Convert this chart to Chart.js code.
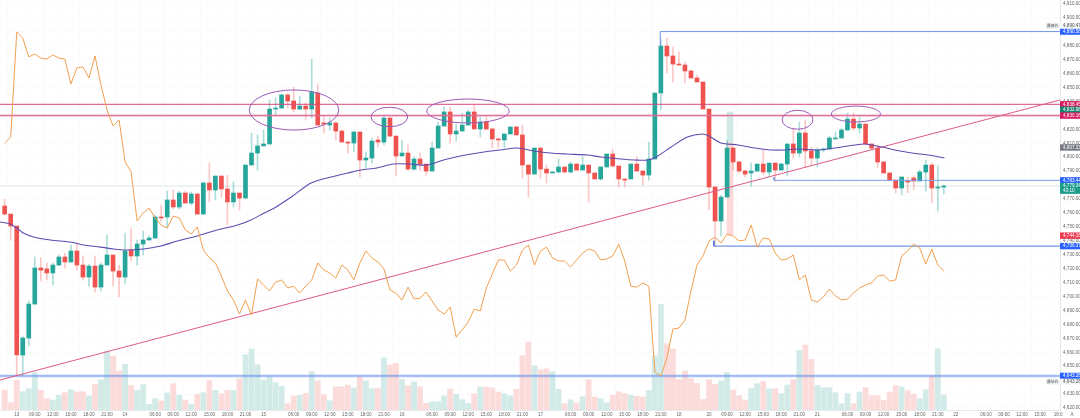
<!DOCTYPE html>
<html>
<head>
<meta charset="utf-8">
<title>XAUUSD H1</title>
<script src="https://cdn.jsdelivr.net/npm/chart.js@4"></script>
<style>
html, body { margin: 0; padding: 0; background: #fff; }
canvas { display: block; }
</style>
</head>
<body>
<canvas id="grafico" width="1080" height="418"></canvas>
<script>
var opens = [4765.0,4759.2,4750.6,4658.0,4670.2,4694.6,4720.5,4719.8,4716.9,4722.6,4728.4,4724.8,4732.7,4722.6,4714.0,4721.9,4706.8,4722.6,4729.8,4718.3,4714.0,4733.4,4729.1,4737.7,4740.6,4742.0,4757.1,4757.1,4769.3,4764.3,4774.3,4767.1,4773.6,4759.2,4781.5,4776.5,4786.5,4777.2,4767.9,4774.3,4770.7,4794.4,4803.0,4808.1,4809.5,4834.6,4835.3,4844.7,4840.4,4834.6,4836.8,4834.6,4846.1,4824.6,4823.1,4824.6,4818.8,4810.9,4810.2,4818.1,4798.0,4799.4,4812.4,4810.9,4828.1,4815.2,4800.9,4803.0,4791.5,4798.7,4795.1,4790.1,4806.6,4822.4,4832.5,4816.7,4818.8,4823.1,4832.5,4820.3,4825.3,4820.3,4813.1,4812.4,4816.7,4821.7,4816.0,4794.4,4787.9,4806.6,4791.5,4788.7,4789.4,4793.0,4789.4,4795.1,4790.8,4794.4,4788.7,4784.4,4793.0,4802.3,4793.7,4784.4,4784.4,4795.1,4790.1,4787.2,4798.7,4846.1,4879.8,4872.7,4866.9,4866.2,4861.9,4856.9,4854.0,4834.6,4778.6,4754.2,4771.4,4806.6,4796.6,4790.1,4788.7,4790.1,4795.1,4789.4,4795.8,4790.8,4795.1,4809.5,4803.0,4817.4,4804.5,4799.4,4805.2,4805.9,4813.1,4813.8,4819.5,4827.4,4821.0,4823.8,4809.5,4806.6,4796.6,4788.7,4783.6,4777.9,4782.9,4785.1,4782.9,4789.4,4794.4,4777.9,4778.6];
var closes = [4759.2,4750.6,4658.0,4670.2,4694.6,4720.5,4719.0,4716.9,4722.6,4728.4,4724.8,4732.7,4722.6,4714.0,4721.9,4706.8,4722.6,4729.8,4718.3,4714.0,4732.7,4729.1,4737.7,4740.6,4742.0,4757.1,4756.4,4769.3,4764.3,4774.3,4767.1,4773.6,4759.2,4781.5,4776.5,4786.5,4777.2,4767.9,4774.3,4770.7,4794.4,4803.0,4808.1,4809.5,4834.6,4835.3,4844.7,4840.4,4834.6,4836.8,4834.6,4846.8,4823.1,4823.8,4824.6,4818.8,4810.9,4810.2,4818.1,4798.0,4799.4,4811.6,4810.9,4828.1,4815.2,4800.9,4803.0,4791.5,4798.7,4795.1,4790.1,4806.6,4822.4,4832.5,4816.7,4818.8,4823.1,4832.5,4820.3,4825.3,4820.3,4813.1,4812.4,4816.7,4821.7,4816.0,4794.4,4787.9,4806.6,4791.5,4788.7,4789.4,4793.0,4789.4,4795.1,4790.8,4794.4,4788.7,4784.4,4793.0,4802.3,4793.7,4784.4,4783.6,4795.1,4790.1,4787.2,4798.7,4846.1,4879.8,4872.7,4866.9,4866.2,4861.9,4856.9,4854.0,4834.6,4778.6,4754.2,4771.4,4806.6,4796.6,4790.1,4787.9,4790.1,4795.1,4789.4,4795.8,4790.8,4795.1,4809.5,4803.0,4817.4,4804.5,4799.4,4805.2,4805.9,4813.8,4813.8,4819.5,4827.4,4821.0,4823.8,4809.5,4806.6,4796.6,4788.7,4783.6,4777.9,4785.8,4782.2,4782.9,4789.4,4794.4,4777.9,4778.6,4779.3];
var highs = [4770.0,4759.2,4750.6,4671.7,4696.8,4728.4,4727.7,4724.1,4724.1,4729.8,4731.2,4737.0,4738.4,4729.1,4723.3,4729.1,4724.1,4744.2,4729.8,4722.6,4745.6,4749.2,4740.6,4747.0,4743.5,4758.5,4765.7,4775.8,4776.5,4775.8,4775.8,4775.0,4774.3,4782.2,4795.8,4786.5,4786.5,4787.2,4782.2,4774.3,4794.4,4817.4,4816.0,4819.5,4841.1,4842.5,4845.4,4846.1,4850.4,4844.0,4838.9,4870.5,4852.6,4828.9,4828.1,4825.3,4819.5,4811.6,4818.8,4818.1,4803.8,4813.8,4815.2,4829.6,4828.9,4815.2,4812.4,4808.8,4800.2,4803.0,4795.1,4810.9,4825.3,4836.1,4836.1,4823.8,4831.7,4833.9,4837.5,4828.9,4828.9,4821.0,4813.8,4816.7,4821.7,4822.4,4823.1,4794.4,4806.6,4806.6,4794.4,4789.4,4798.7,4793.0,4796.6,4795.8,4800.2,4794.4,4788.7,4793.0,4802.3,4805.9,4793.7,4784.4,4795.1,4800.2,4790.1,4810.9,4846.1,4884.9,4885.6,4879.1,4875.5,4868.4,4862.6,4859.0,4854.0,4834.6,4778.6,4772.9,4812.4,4807.3,4797.3,4790.8,4795.8,4795.1,4805.2,4795.8,4795.8,4795.8,4809.5,4821.0,4825.3,4826.7,4807.3,4806.6,4806.6,4815.2,4818.1,4821.0,4831.7,4831.7,4828.9,4823.8,4809.5,4808.8,4796.6,4788.7,4783.6,4785.8,4785.8,4786.5,4790.8,4798.0,4795.8,4793.7,4780.1];
var lows = [4758.5,4740.6,4643.6,4643.6,4664.5,4694.6,4711.1,4711.9,4708.3,4722.6,4720.5,4724.8,4719.0,4711.9,4707.5,4703.2,4704.0,4722.6,4707.5,4699.7,4709.0,4725.5,4722.6,4729.8,4740.6,4742.0,4753.5,4749.2,4762.8,4762.8,4767.1,4765.7,4759.2,4759.2,4767.9,4769.3,4771.4,4751.3,4764.3,4762.1,4770.7,4794.4,4790.8,4808.1,4809.5,4830.3,4835.3,4835.3,4832.5,4833.9,4826.7,4828.1,4823.1,4817.4,4819.5,4812.4,4810.9,4803.0,4803.8,4785.8,4792.3,4795.8,4807.3,4808.8,4814.5,4786.5,4800.9,4790.8,4790.8,4790.8,4787.2,4790.1,4806.6,4822.4,4810.2,4811.6,4818.8,4823.1,4820.3,4814.5,4819.5,4806.6,4806.6,4806.6,4816.7,4816.0,4785.1,4771.4,4787.9,4785.1,4781.5,4788.7,4788.7,4788.7,4788.7,4790.8,4790.8,4767.9,4784.4,4783.6,4793.0,4793.0,4778.6,4778.6,4784.4,4790.1,4780.1,4783.6,4798.7,4833.9,4860.5,4854.0,4866.2,4853.3,4856.9,4854.0,4834.6,4762.1,4736.3,4743.5,4771.4,4790.8,4788.7,4785.8,4779.3,4789.4,4787.2,4785.8,4782.9,4790.8,4786.5,4799.4,4800.2,4793.0,4794.4,4793.0,4803.8,4805.9,4813.1,4813.8,4819.5,4819.5,4817.4,4809.5,4805.2,4792.3,4788.7,4782.9,4774.3,4772.9,4774.3,4776.5,4782.9,4775.8,4767.1,4761.4,4773.6];
var volumes = [20,7.3,30,18.3,21.3,37.3,19.7,11.3,10,14.7,17.3,20.3,18.3,18.3,14,25.7,30.3,59,54,39,45.7,24.7,19.7,25.3,5.7,11.3,9,17,26.3,15,10,5.7,15.7,17.3,29.3,19.7,16.3,19.7,19.7,31.3,55.3,61,45.3,30,33.3,27.3,23.7,6.3,14,14.7,16.7,38.3,29,15.3,9.3,23.3,23.3,25,22,33,29,21.3,22,52.3,45,46.7,30.7,24.3,28,23.3,6.7,8.3,8.3,14,21,15.7,10.3,6.7,16.3,23,23,22,18,16.3,14.3,20.7,54.3,68,44.3,40.3,41.3,38.3,20.7,6.3,10.3,7,13.3,30.3,13,11.3,7.3,14.7,18.3,16.3,15,13.7,13,19.7,54.3,105.7,66.3,61,30.3,39,31.3,26.7,10.7,30.3,25.7,29,37.3,20,14.3,10,21.3,26.3,28.3,21,21.3,16.3,25,30.3,59.7,65,50.7,24.7,22.3,22.3,17.3,6.3,16.3,6.3,18,22.3,14.3,14.3,9.7,18,24.3,23,19.3,15.7,11.3,20.3,34,61.3,15];
var indicador = [4810.2,4814.5,4889.9,4885.6,4872.0,4874.1,4871.2,4870.5,4873.4,4871.2,4870.5,4852.6,4864.1,4864.8,4856.9,4872.7,4851.8,4833.9,4822.4,4826.7,4796.6,4789.4,4754.2,4760,4763.5,4756.4,4751.3,4749.2,4757.8,4756.4,4747.8,4744.9,4749.9,4733.4,4727.7,4724.1,4714.7,4704,4697.5,4687.4,4697.5,4686.7,4712.6,4708.3,4704,4710.4,4711.9,4706.1,4707.5,4702.5,4707.5,4711.9,4724.1,4719,4716.9,4713.3,4722.6,4719,4711.9,4724.1,4732.7,4727.7,4724.8,4719.8,4704.7,4702.5,4697.5,4706.8,4698.2,4698.9,4703.2,4696.8,4690.3,4687.4,4692.5,4670.9,4676,4681.7,4691,4689.6,4706.1,4716.2,4726.2,4726.2,4718.3,4722.6,4733.4,4737,4722.6,4732.7,4735.5,4727.7,4725.5,4725.5,4721.2,4726.2,4731.2,4734.1,4732.7,4726.2,4727,4729.1,4737.7,4725.5,4707.5,4706.8,4709.7,4707.5,4645.8,4643,4655.9,4676.7,4677.4,4683.1,4704,4722.6,4729.1,4739.9,4742.7,4738.4,4744.9,4743.5,4739.9,4740.6,4751.3,4735.5,4742,4741.3,4731.2,4726.2,4727,4729.8,4711.9,4715.4,4697.5,4696.1,4699.7,4705.4,4700.4,4697.5,4698.2,4702.5,4706.1,4708.3,4709.7,4714.7,4715.4,4711.1,4711.9,4729.1,4732.7,4737.7,4734.8,4723.3,4734.1,4722.6,4718.3];

// media movel lida em pontos soltos
var mediaX = [-0.8,0.9,2,3.1,4.8,7.6,10.9,13.1,15.9,18.1,20.3,23.1,25.9,28.7,32,35.3,38.7,40.9,43.1,44.8,47.6,50.9,54.2,57,59.2,61.8,64.6,67.3,70.1,72.9,75.7,79.6,82.3,85.1,87.9,90.7,93.4,96.8,99,102.3,104.6,106.8,108.2,110.7,113.4,115.9,117,119,121.8,124.6,127.3,129.6,131.8,135.1,137.9,141.2,142.9,145.7,147.9,150.7,153.4,156.1];
var mediaY = [4753.5,4752.1,4749.2,4745.6,4742.7,4740.6,4739.1,4737,4735.5,4734.1,4733.4,4734.1,4736.3,4739.9,4743.5,4747.8,4751.3,4754.9,4760,4763.5,4771.4,4781.5,4785.8,4788.7,4790.8,4792.3,4795.1,4795.1,4794.4,4798,4800.9,4803.8,4805.2,4806.6,4804.5,4803,4802.3,4801.6,4800.2,4798.7,4798,4798,4800.2,4807.3,4814.5,4816.7,4815.2,4810.2,4808.8,4806.6,4805.2,4805.2,4805.9,4805.2,4806.6,4808.8,4809.5,4807.3,4805.2,4803,4801.6,4799.4];

var xTickPos = [2,5,8,11,14,17,20,25,28,31,34,37,40,43,48,51,54,57,60,63,66,71,74,77,80,83,86,89,94,97,100,103,106,109,112,117,120,123,126,129,132,135,140,143,146,149,152,155,158,163,166,169,172,175];
var xTickText = ["13","09:00","12:00","15:00","18:00","21:00","14","06:00","09:00","12:00","15:00","18:00","21:00","15","06:00","09:00","12:00","15:00","18:00","21:00","16","06:00","09:00","12:00","15:00","18:00","21:00","17","06:00","09:00","12:00","15:00","18:00","21:00","18","20","09:00","12:00","15:00","18:00","21:00","21","06:00","09:00","12:00","15:00","18:00","21:00","22","06:00","09:00","12:00","15:00","18:0"];
var yTicks = [4910,4900,4890,4880,4870,4860,4850,4840,4830,4820,4810,4800,4790,4780,4770,4760,4750,4740,4730,4720,4710,4700,4690,4680,4670,4660,4650,4640,4630,4620];

var xMin = -0.78, xMax = 175.3;
var resistencia1 = 4838, resistencia2 = 4829.9, suporte = 4643, precoAtual = 4779.3;
var topoX = [108.9,108.9,xMax], topoY = [4879.8,4890.2,4890.2];
var nivel1X = [127.8,127.8,xMax], nivel1Y = [4785.8,4783.4,4783.4];
var nivel2X = [117.8,117.8,xMax], nivel2Y = [4740,4736.2,4736.2];
var tendenciaX = [xMin,xMax], tendenciaY = [4640.1,4841.1];
var faixaVerde = [4810.2,4832.5], faixaRosa = [4743.9,4810.2], faixaX = 120.5;

var elipseX = [48.06,63.9,76.96,131.7,141.4];
var elipseRaioX = [7.43,3.04,6.86,2.57,4.07];
var elipseY = [4833.9,4828.9,4833.2,4826.9,4831];
var elipseRaioY = [14.4,7,8.6,6.8,5.7];

var tagPreco = [4890.2,4838,4834.1,4829.9,4807,4783.4,4779.3,4743.7,4736.2,4643];
var tagTexto = ["4,890.58","4,838.45","4,832.98","4,830.16","4,807.33","4,783.44","4,779.34","4,744.16","4,736.37","4,643.28"];
var tagCor = ["#2962ff","#d81b60","#15856f","#d81b60","#787b86","#2962ff","#1f9d8b","#ef3b50","#2962ff","#2962ff"];

var verde = "#26a69a", vermelho = "#ef5350";

function pontos(xs, ys) {
    return xs.map(function (x, i) { return { x: x, y: ys[i] }; });
}

function corVela(i, cores) {
    return closes[i] >= opens[i] ? cores[0] : cores[1];
}

function linha(label, xs, ys, cor, largura, extra) {
    var d = { type: "line", label: label, data: pontos(xs, ys), borderColor: cor, borderWidth: largura, pointRadius: 0, tension: 0, order: 3 };
    for (var k in extra) { d[k] = extra[k]; }
    return d;
}

var indices = opens.map(function (v, i) { return i; });

var datasets = [
    { type: "bar", label: "Velas", order: 4, barThickness: 4, grouped: false, minBarLength: 1,
      data: indices.map(function (i) { return { x: i, y: [opens[i], closes[i]] }; }),
      backgroundColor: indices.map(function (i) { return corVela(i, [verde, vermelho]); }) },
    { type: "bar", label: "Pavios", order: 5, barThickness: 1, grouped: false,
      data: indices.map(function (i) { return { x: i, y: [lows[i], highs[i]] }; }),
      backgroundColor: indices.map(function (i) { return corVela(i, ["rgba(38,166,154,.38)", "rgba(239,83,80,.32)"]); }) },
    { type: "bar", label: "Volume", order: 9, barThickness: 5.2, grouped: false, yAxisID: "v",
      data: indices.map(function (i) { return { x: i, y: volumes[i] }; }),
      backgroundColor: indices.map(function (i) { return corVela(i, ["#d3ebe8", "#fcdcdb"]); }) },
    { type: "bar", label: "Faixa", order: 8, barThickness: 6, grouped: false,
      data: [{ x: faixaX, y: faixaVerde }, { x: faixaX, y: faixaRosa }],
      backgroundColor: ["#cfe9e5", "#fcd9d8"] },
    linha("Indicador", indices, indicador, "#f2a04e", 1, { order: 2 }),
    linha("Media", mediaX, mediaY, "#5e4bb0", 1.1, { tension: 0.3 }),
    linha("Tendencia", tendenciaX, tendenciaY, "#dc5a86", 1),
    linha("Res1", [xMin, xMax], [resistencia1, resistencia1], "#d6457f", 1),
    linha("Res2 halo", [xMin, xMax], [resistencia2, resistencia2], "rgba(224,90,138,.28)", 3, { order: 3 }),
    linha("Res2", [xMin, xMax], [resistencia2, resistencia2], "#e07aa0", 1),
    linha("Sup halo", [xMin, xMax], [suporte, suporte], "rgba(90,130,235,.25)", 3),
    linha("Sup", [xMin, xMax], [suporte, suporte], "#7ba0ee", 1),
    linha("Topo", topoX, topoY, "#6f94e8", 1),
    linha("Nivel1", nivel1X, nivel1Y, "#7ba0ee", 1),
    linha("Nivel2", nivel2X, nivel2Y, "#4f78dd", 1),
    linha("Atual", [xMin, xMax], [precoAtual, precoAtual], "#e3e8e8", 1, { order: 7 })
];

// elipses e etiquetas do eixo de precos
var desenhos = {
    id: "desenhos",
    afterDatasetsDraw: function (chart) {
        var ctx = chart.ctx, sx = chart.scales.x, sy = chart.scales.y;
        ctx.save();
        ctx.strokeStyle = "#9b59b6";
        ctx.lineWidth = 1;
        elipseX.forEach(function (cx, i) {
            var px = sx.getPixelForValue(cx), py = sy.getPixelForValue(elipseY[i]);
            var rx = sx.getPixelForValue(cx + elipseRaioX[i]) - px;
            var ry = py - sy.getPixelForValue(elipseY[i] + elipseRaioY[i]);
            ctx.beginPath();
            ctx.ellipse(px, py, rx, ry, 0, 0, Math.PI * 2);
            ctx.stroke();
        });
        var ax = sx.right;
        ctx.font = "4.6px 'Liberation Sans', sans-serif";
        ctx.textBaseline = "middle";
        ctx.textAlign = "left";
        tagPreco.forEach(function (p, i) {
            var y = sy.getPixelForValue(p);
            ctx.fillStyle = tagCor[i];
            var alto = tagTexto[i] === "4,779.34" ? 11 : 6.4;
            ctx.fillRect(ax, y - 3.2, 20, alto);
            ctx.fillStyle = "#fff";
            ctx.fillText(tagTexto[i], ax + 3, y);
            if (tagTexto[i] === "4,779.34") { ctx.fillText("43:10", ax + 3, y + 5); }
        });
        caixaExtremo(ctx, ax, 25.7, "最高价", "4,890.47");
        caixaExtremo(ctx, ax, 381.7, "最低价", "4,643.28");
        ctx.fillStyle = "#666";
        ctx.textAlign = "center";
        ctx.fillText("A", 1072, 414.5);
        ctx.restore();
    }
};

function caixaExtremo(ctx, ax, y, nome, valor) {
    ctx.fillStyle = "#eef0f3";
    ctx.fillRect(ax - 14, y - 3, 14, 6);
    ctx.fillStyle = "#f5f6f8";
    ctx.fillRect(ax, y - 3, 20, 6);
    ctx.fillStyle = "#555";
    ctx.font = "3.8px 'Noto Sans CJK SC', sans-serif";
    ctx.fillText(nome, ax - 13, y);
    ctx.font = "4.6px 'Liberation Sans', sans-serif";
    ctx.fillText(valor, ax + 3, y);
}

new Chart(document.getElementById("grafico"), {
    data: { datasets: datasets },
    plugins: [desenhos],
    options: {
        responsive: false,
        animation: false,
        devicePixelRatio: 1,
        layout: { padding: 0 },
        plugins: { legend: { display: false }, tooltip: { enabled: false } },
        scales: {
            x: {
                type: "linear", min: xMin, max: xMax, offset: false,
                afterBuildTicks: function (s) { s.ticks = xTickPos.map(function (v) { return { value: v }; }); },
                afterFit: function (s) { s.height = 8; s.paddingLeft = 0; s.paddingRight = 0; },
                grid: { color: "#fbfbfb", drawTicks: false },
                border: { color: "#e6e8ec" },
                ticks: {
                    autoSkip: false, maxRotation: 0, padding: 2, color: "#666",
                    font: { size: 4.6, family: "'Liberation Sans', sans-serif" },
                    callback: function (v) { return xTickText[xTickPos.indexOf(v)]; }
                }
            },
            y: {
                position: "right", min: 4618.55, max: 4912.87,
                afterBuildTicks: function (s) { s.ticks = yTicks.map(function (v) { return { value: v }; }); },
                afterFit: function (s) { s.width = 20; s.paddingTop = 0; s.paddingBottom = 0; },
                grid: { color: "#fbfbfb", drawTicks: false },
                border: { color: "#e6e8ec" },
                ticks: {
                    autoSkip: false, padding: 3, color: "#666",
                    font: { size: 4.6, family: "'Liberation Sans', sans-serif" },
                    callback: function (v) { return v.toLocaleString("en-US") + ".00"; }
                }
            },
            v: { display: false, min: 0, max: 410 }
        }
    }
});
</script>
</body>
</html>
